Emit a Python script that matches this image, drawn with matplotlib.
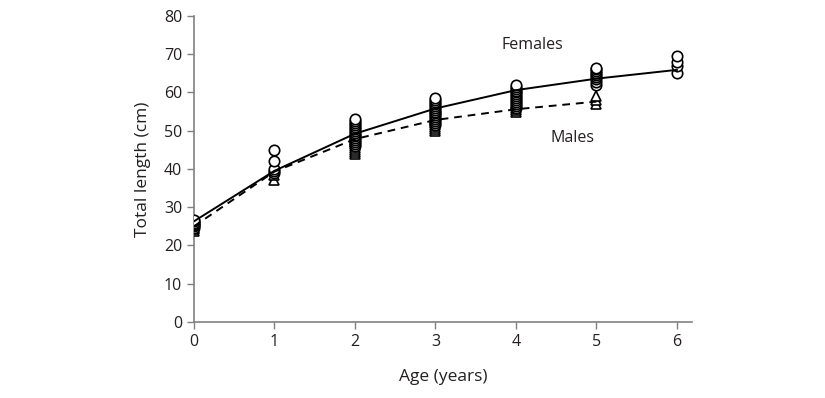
import matplotlib
matplotlib.use('Agg')
import matplotlib.pyplot as plt

# Observed lengths (cm) per age class, females (circles) and males (triangles)
fem_0 = [24.5, 25, 25.3, 25.6, 26, 26.3, 26.6]
fem_1 = [39, 39.5, 40, 42, 45]
fem_2 = [46, 46.5, 47, 47.5, 48, 48.5, 49, 49.5, 50, 50.5, 51, 51.5, 52, 52.5, 53]
fem_3 = [51.5, 52, 52.5, 53, 53.5, 54, 54.5, 55, 55.5, 56, 56.5, 57, 57.5, 58, 58.6]
fem_4 = [56, 56.5, 57, 57.5, 58, 58.5, 59, 59.5, 60, 60.5, 61, 61.5, 62]
fem_5 = [62, 62.7, 63.5, 64, 64.5, 65, 65.5, 66, 66.5]
fem_6 = [65, 67, 68, 69.5]
male_0 = [23.8, 24.2, 24.6, 25]
male_1 = [37, 38.5, 39.5]
male_2 = [44, 44.5, 45, 45.5, 46, 46.5, 47, 47.5, 48, 48.5, 49]
male_3 = [50, 50.5, 51, 51.5, 52, 52.5, 53]
male_4 = [55, 55.5, 56, 56.5, 57]
male_5 = [57, 58, 59]

# Fitted growth curves
fit_fem_age = [0, 1, 2, 3, 4, 5, 6]
fit_fem = [26.3, 39.5, 49.2, 55.8, 60.6, 63.6, 65.9]
fit_male_age = [0, 1, 2, 3, 4, 5]
fit_male = [25.0, 39.3, 47.8, 52.8, 55.6, 57.6]

fem_groups = [fem_0, fem_1, fem_2, fem_3, fem_4, fem_5, fem_6]
male_groups = [male_0, male_1, male_2, male_3, male_4, male_5]

plt.rcParams['font.family'] = ['Open Sans', 'DejaVu Sans']
txt = '#231f20'
axc = '#808080'

fig = plt.figure(figsize=(8.25, 3.98), dpi=100)
ax = fig.add_axes([0.235, 0.191, 0.604, 0.769])

for age, vals in enumerate(male_groups):
    ax.plot([age] * len(vals), vals, linestyle='none', marker='^', markersize=7.5,
            markerfacecolor='white', markeredgecolor='black', markeredgewidth=1.2, zorder=3)
for age, vals in enumerate(fem_groups):
    ax.plot([age] * len(vals), vals, linestyle='none', marker='o', markersize=7.5,
            markerfacecolor='white', markeredgecolor='black', markeredgewidth=1.2, zorder=3)
ax.plot(fit_fem_age, fit_fem, color='black', lw=1.4, zorder=4)
ax.plot(fit_male_age, fit_male, color='black', lw=1.4, linestyle=(0, (4, 3)), zorder=4)

ax.text(4.21, 72.4, 'Females', fontsize=11.5, color=txt, ha='center', va='center')
ax.text(4.7, 48.1, 'Males', fontsize=11.5, color=txt, ha='center', va='center')

ax.set_xlim(0, 6.19)
ax.set_ylim(0, 80)
ax.set_xticks(range(0, 7))
ax.set_yticks(range(0, 81, 10))

for s in ['top', 'right']:
    ax.spines[s].set_visible(False)
for s in ['left', 'bottom']:
    ax.spines[s].set_color(axc)
    ax.spines[s].set_linewidth(1.2)
ax.tick_params(colors=axc, labelcolor=txt, labelsize=11.5, length=5, width=1.0, direction='out')

ax.set_xlabel('Age (years)', fontsize=12.5, color=txt, labelpad=14)
ax.set_ylabel('Total length (cm)', fontsize=12.5, color=txt, labelpad=9)

fig.savefig('out.png', dpi=100)
